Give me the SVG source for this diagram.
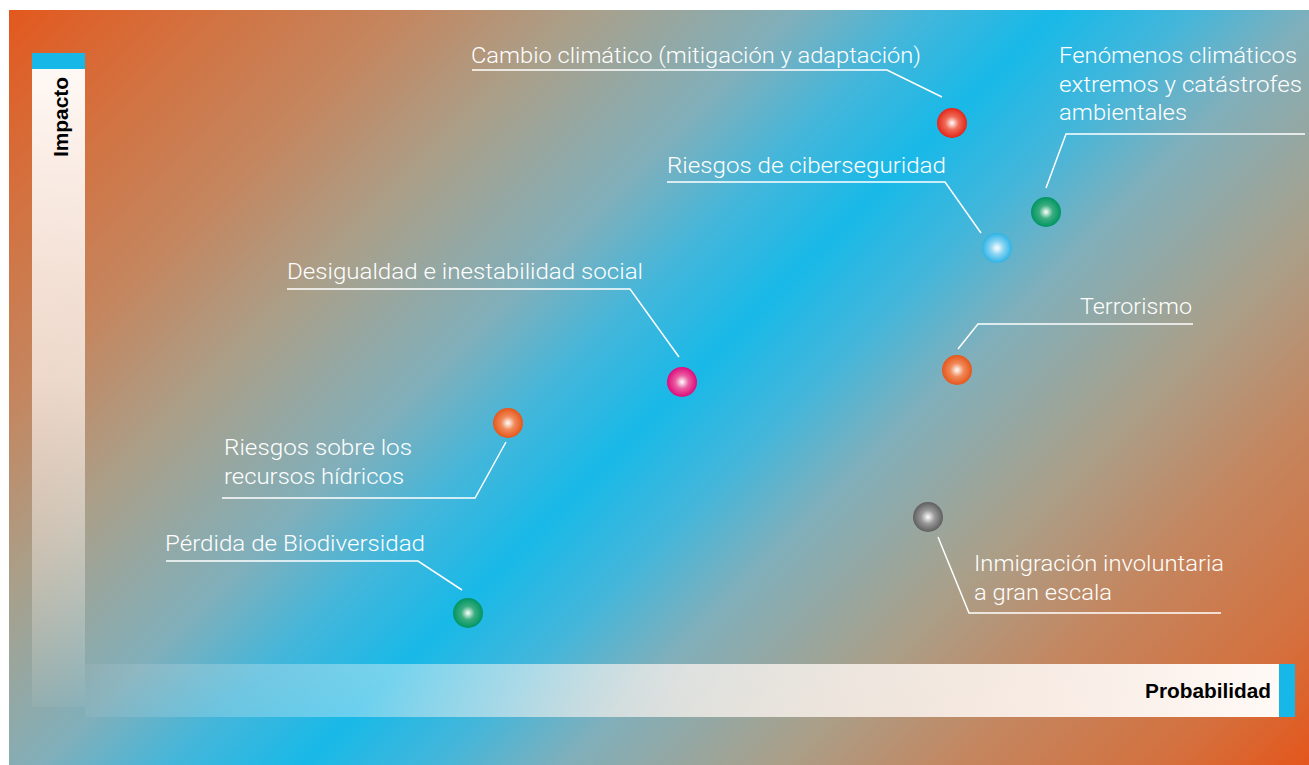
<svg xmlns="http://www.w3.org/2000/svg" width="1309" height="765" viewBox="0 0 1309 765">
<defs>
<linearGradient id="bg" gradientUnits="userSpaceOnUse" x1="0" y1="0" x2="1037" y2="1037">
<stop offset="0" stop-color="#E4561B"/>
<stop offset="0.1" stop-color="#D4703E"/>
<stop offset="0.2" stop-color="#C4865F"/>
<stop offset="0.29" stop-color="#A9A08B"/>
<stop offset="0.39" stop-color="#80AFBB"/>
<stop offset="0.45" stop-color="#45B6DA"/>
<stop offset="0.515" stop-color="#18B9E8"/>
<stop offset="0.58" stop-color="#45B6DA"/>
<stop offset="0.64" stop-color="#80AFBB"/>
<stop offset="0.74" stop-color="#A9A08B"/>
<stop offset="0.83" stop-color="#C4865F"/>
<stop offset="0.93" stop-color="#D4703E"/>
<stop offset="1" stop-color="#E4561B"/>
</linearGradient>
<linearGradient id="vbar" x1="0" y1="0" x2="0" y2="1">
<stop offset="0" stop-color="#FFFBF8" stop-opacity="1"/>
<stop offset="0.5" stop-color="#FBF3EE" stop-opacity="0.75"/>
<stop offset="1" stop-color="#FFFFFF" stop-opacity="0.05"/>
</linearGradient>
<linearGradient id="hbar" x1="0" y1="0" x2="1" y2="0">
<stop offset="0" stop-color="#FFFFFF" stop-opacity="0.05"/>
<stop offset="0.5" stop-color="#FBF3EE" stop-opacity="0.75"/>
<stop offset="1" stop-color="#FFFBF8" stop-opacity="1"/>
</linearGradient>
<radialGradient id="gRed" cx="0.5" cy="0.5" r="0.5"><stop offset="0" stop-color="#FFFFFF"/><stop offset="0.45" stop-color="#F06A55"/><stop offset="1" stop-color="#E2261A"/></radialGradient>
<radialGradient id="gGreen" cx="0.5" cy="0.5" r="0.5"><stop offset="0" stop-color="#FFFFFF"/><stop offset="0.45" stop-color="#3BAE80"/><stop offset="1" stop-color="#009462"/></radialGradient>
<radialGradient id="gBlue" cx="0.5" cy="0.5" r="0.5"><stop offset="0" stop-color="#FFFFFF"/><stop offset="0.45" stop-color="#8AD4F2"/><stop offset="1" stop-color="#2DB3E6"/></radialGradient>
<radialGradient id="gMag" cx="0.5" cy="0.5" r="0.5"><stop offset="0" stop-color="#FFFFFF"/><stop offset="0.45" stop-color="#EA5CA2"/><stop offset="1" stop-color="#DE0A79"/></radialGradient>
<radialGradient id="gGray" cx="0.5" cy="0.5" r="0.5"><stop offset="0" stop-color="#FFFFFF"/><stop offset="0.45" stop-color="#9A9A9A"/><stop offset="1" stop-color="#5E5E5E"/></radialGradient>
<radialGradient id="gOrange" cx="0.5" cy="0.5" r="0.5"><stop offset="0" stop-color="#FFFFFF"/><stop offset="0.45" stop-color="#F08A5A"/><stop offset="1" stop-color="#E5561A"/></radialGradient>
</defs>
<style>
.lbl{font-family:Roboto,"Liberation Sans",sans-serif;font-weight:300;font-size:22px;fill:#FFFFFF}
.ax{font-family:"Liberation Sans",Arial,sans-serif;font-weight:bold;font-size:21px;fill:#000000}
.ld{fill:none;stroke:#FFFFFF;stroke-width:1.5}
</style>
<rect x="9" y="10" width="1300" height="755" fill="url(#bg)"/>
<g id="axis-impacto">
<rect x="32" y="53" width="53" height="654" fill="url(#vbar)"/>
<rect x="32" y="53" width="53" height="16" fill="#17B8E7"/>
<text class="ax" transform="translate(68,117) rotate(-90)" text-anchor="middle" textLength="80" lengthAdjust="spacingAndGlyphs">Impacto</text>
</g>
<g id="axis-probabilidad">
<rect x="85" y="664" width="1210" height="53" fill="url(#hbar)"/>
<rect x="1279" y="664" width="16" height="53" fill="#17B8E7"/>
<text class="ax" x="1145" y="698" textLength="126" lengthAdjust="spacingAndGlyphs">Probabilidad</text>
</g>
<g id="connectors">
<polyline class="ld" points="472,70 887,70 942,97"/>
<polyline class="ld" points="1305,134 1066,134 1046,188"/>
<polyline class="ld" points="667,182 945,182 981,233"/>
<polyline class="ld" points="287,289 630,289 679,357"/>
<polyline class="ld" points="1193,324 978,324 958,349"/>
<polyline class="ld" points="222,498 475,498 506,442"/>
<polyline class="ld" points="166,561 418,561 462,590"/>
<polyline class="ld" points="938,537 969,613 1221,613"/>
</g>
<g id="cambio-climatico">
<circle cx="952" cy="123" r="15" fill="url(#gRed)"/>
<text class="lbl" x="471" y="63" textLength="450" lengthAdjust="spacingAndGlyphs">Cambio climático (mitigación y adaptación)</text>
</g>
<g id="fenomenos-climaticos">
<circle cx="1046" cy="212" r="15" fill="url(#gGreen)"/>
<text class="lbl" x="1059" y="63" textLength="238" lengthAdjust="spacingAndGlyphs">Fenómenos climáticos</text>
<text class="lbl" x="1059" y="92" textLength="243" lengthAdjust="spacingAndGlyphs">extremos y catástrofes</text>
<text class="lbl" x="1059" y="120" textLength="128" lengthAdjust="spacingAndGlyphs">ambientales</text>
</g>
<g id="ciberseguridad">
<circle cx="997" cy="248" r="15" fill="url(#gBlue)"/>
<text class="lbl" x="667" y="173" textLength="279" lengthAdjust="spacingAndGlyphs">Riesgos de ciberseguridad</text>
</g>
<g id="desigualdad">
<circle cx="682" cy="382" r="15" fill="url(#gMag)"/>
<text class="lbl" x="287" y="279" textLength="356" lengthAdjust="spacingAndGlyphs">Desigualdad e inestabilidad social</text>
</g>
<g id="terrorismo">
<circle cx="957" cy="370" r="15" fill="url(#gOrange)"/>
<text class="lbl" x="1080" y="314" textLength="112" lengthAdjust="spacingAndGlyphs">Terrorismo</text>
</g>
<g id="recursos-hidricos">
<circle cx="508" cy="423" r="15" fill="url(#gOrange)"/>
<text class="lbl" x="224" y="455" textLength="188" lengthAdjust="spacingAndGlyphs">Riesgos sobre los</text>
<text class="lbl" x="224" y="484" textLength="180" lengthAdjust="spacingAndGlyphs">recursos hídricos</text>
</g>
<g id="biodiversidad">
<circle cx="468" cy="613" r="15" fill="url(#gGreen)"/>
<text class="lbl" x="165" y="551" textLength="260" lengthAdjust="spacingAndGlyphs">Pérdida de Biodiversidad</text>
</g>
<g id="inmigracion">
<circle cx="928" cy="517" r="15" fill="url(#gGray)"/>
<text class="lbl" x="974" y="571" textLength="250" lengthAdjust="spacingAndGlyphs">Inmigración involuntaria</text>
<text class="lbl" x="974" y="600" textLength="138" lengthAdjust="spacingAndGlyphs">a gran escala</text>
</g>
</svg>
